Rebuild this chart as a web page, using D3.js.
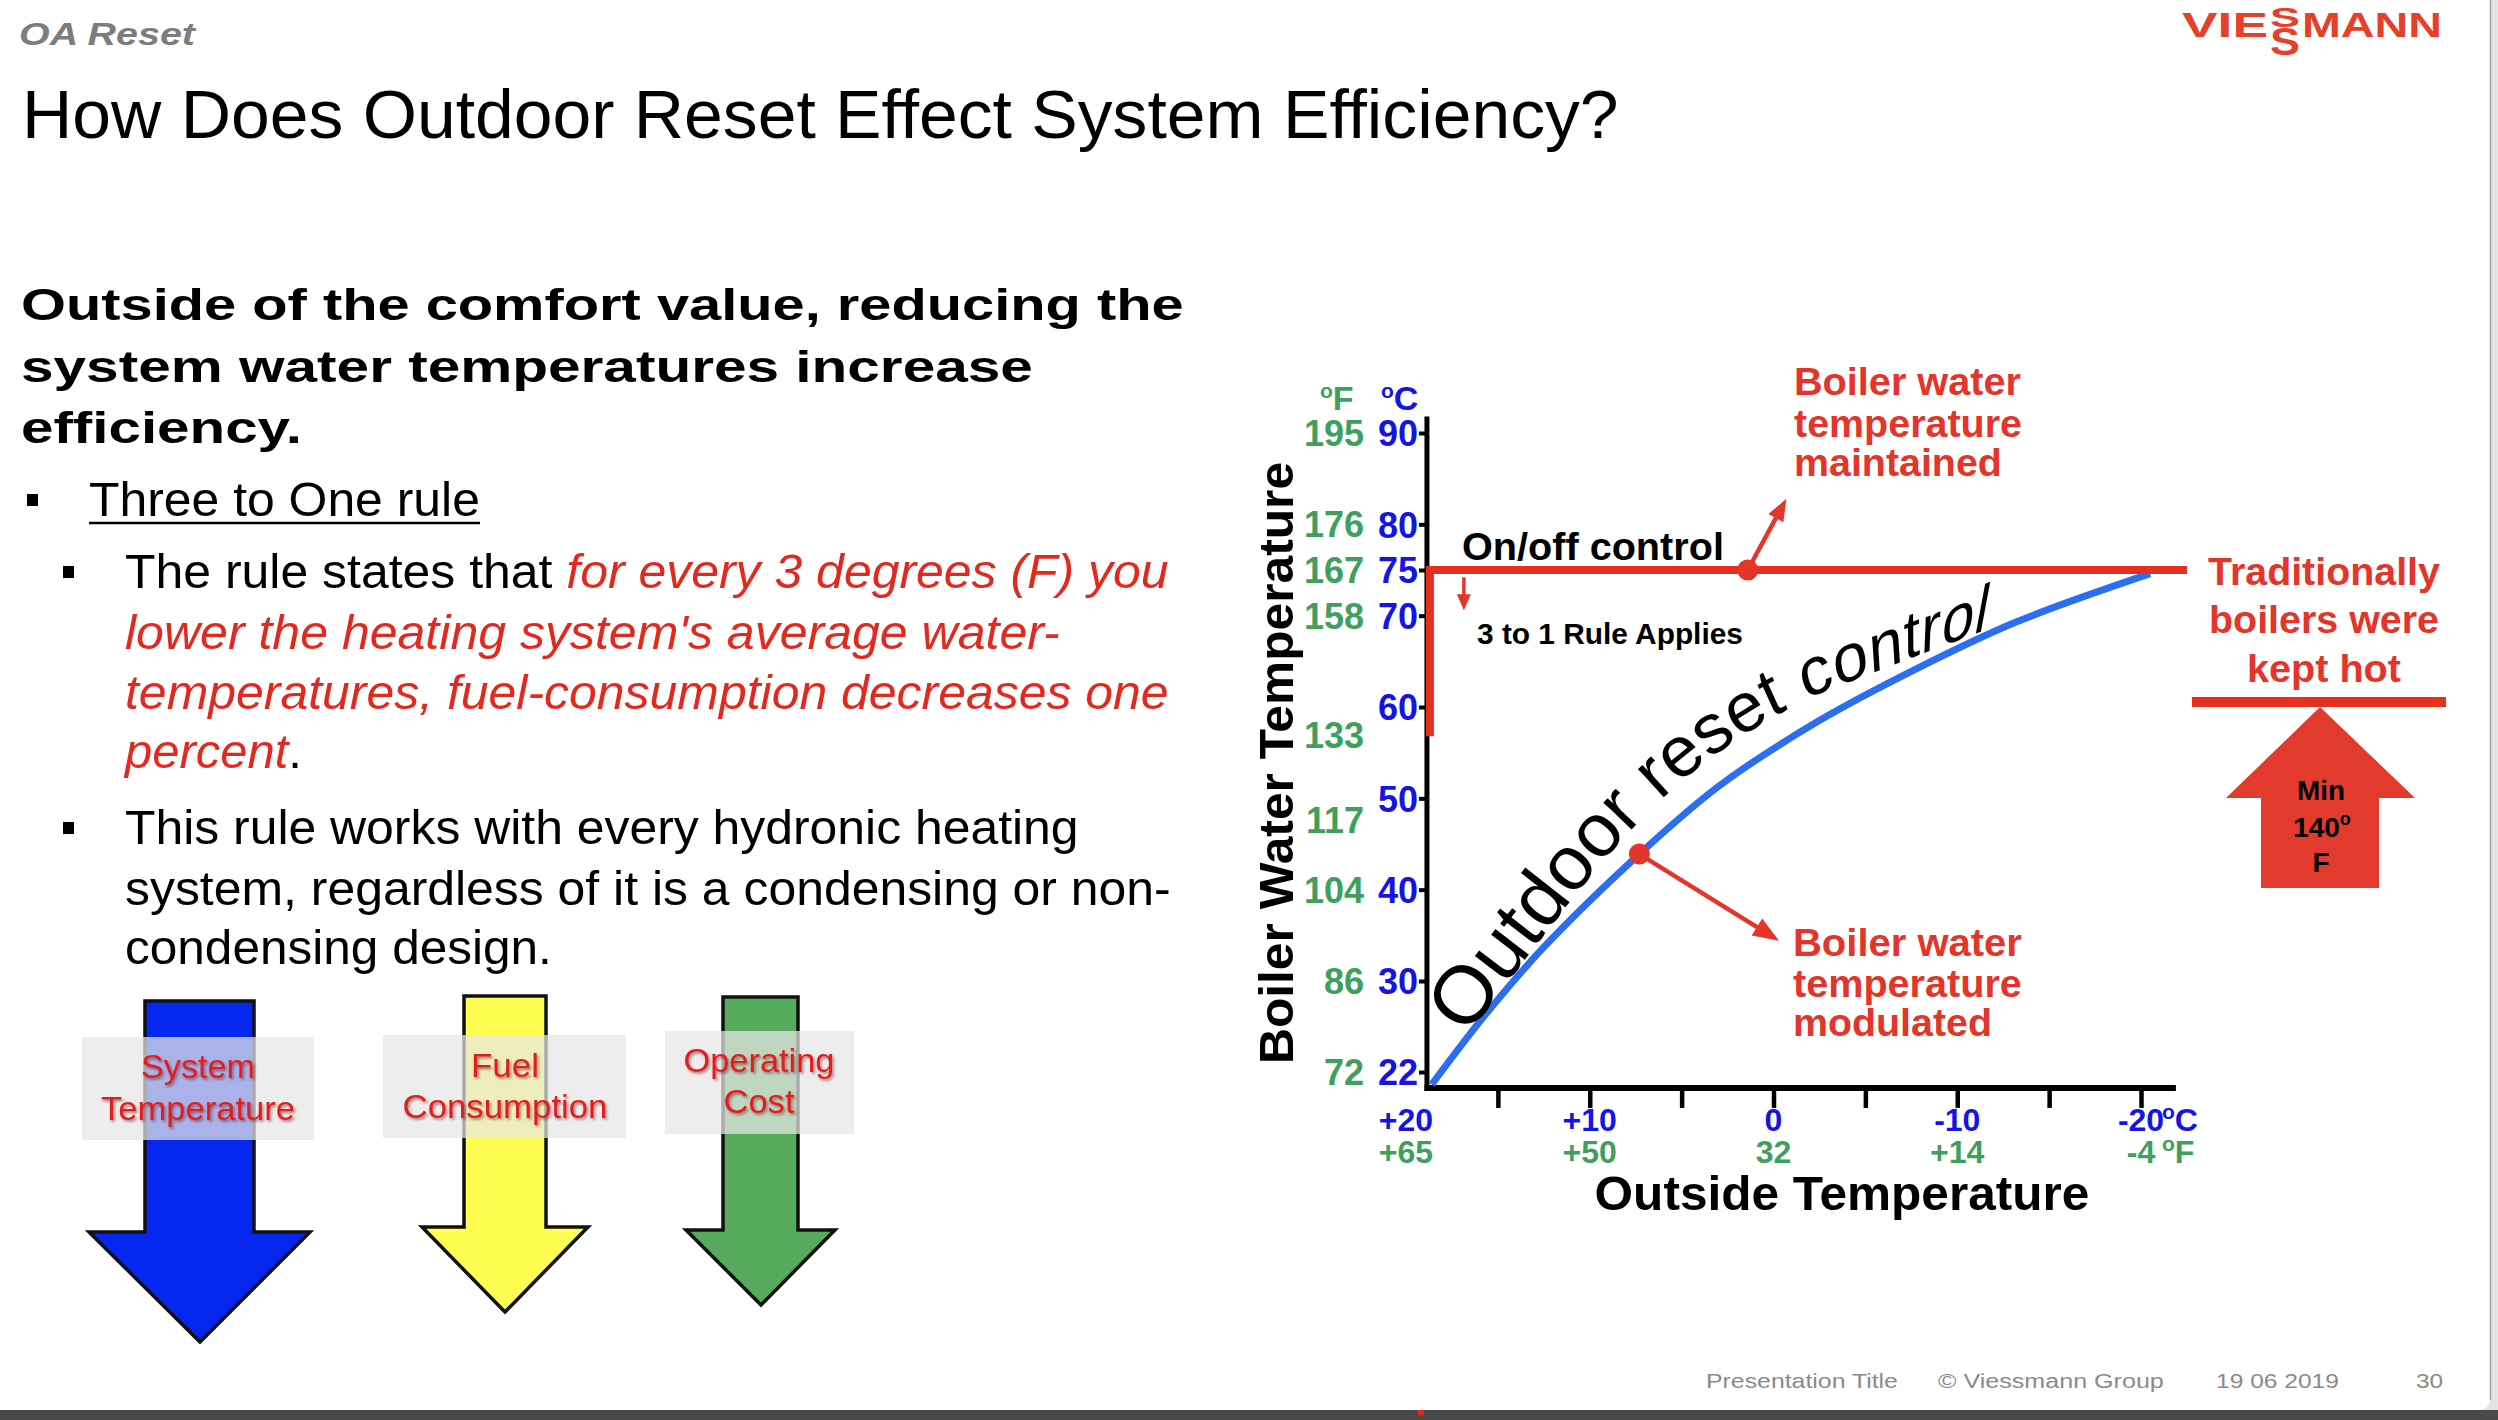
<!DOCTYPE html>
<html><head><meta charset="utf-8">
<script src="https://cdn.jsdelivr.net/npm/d3@7"></script>
<style>
html,body{margin:0;padding:0;background:#fff;overflow:hidden}
svg{display:block}
text{font-family:"Liberation Sans",Arial,Helvetica,sans-serif}
</style></head><body>
<svg id="c" width="2498" height="1420"></svg>
<script>
// ---------------- data ----------------
const outdoorC = [18.6, 15.7, 12.5, 7.3, 3.0, -2.4, -7.8, -13.2, -20.5];
const waterC   = [20.9, 27.0, 33.7, 43.9, 51.3, 58.4, 64.2, 69.3, 74.6];
const yTicksC  = [90, 80, 75, 70, 60, 50, 40, 30, 22];
const yTicksF  = [195, 176, 167, 158, 133, 117, 104, 86, 72];
const yTicksFatC = [90, 80, 75, 70, 56.9, 47.6, 40, 30, 22];
const xTicksC  = [20, 10, 0, -10, -20];
const xLabelsC = ["+20", "+10", "0", "-10", "-20"];
const xLabelsF = ["+65", "+50", "32", "+14", "-4"];
const xMinorTicks = [15, 10, 5, 0, -5, -10, -15, -20];
const onOffTempC = 75;
const onOffLowC = 56.8;
const onOffOutdoor = [18.7, -22.5];
const maintainedPoint = [1.4, 75];
const maintainedTip = [-0.7, 82.8];
const modulatedPoint = [7.3, 43.9];
const modulatedTip = [-0.3, 34.4];
const ruleArrow = [[16.85, 74.2], [16.85, 70.6]];
const textArc = [[16.7, 25.1], [8.5, 44.9], [4.0, 53.5], [-1.2, 60.2], [-6.9, 64.9], [-11.5, 68.4]];

const headingLines = ["Outside of the comfort value, reducing the", "system water temperatures increase", "efficiency."];
const rule1Lines = [
  [{t:"The rule states that "},{t:"for every 3 degrees (F) you",red:true}],
  [{t:"lower the heating system's average water-",red:true}],
  [{t:"temperatures, fuel-consumption decreases one",red:true}],
  [{t:"percent",red:true},{t:"."}]
];
const rule2Lines = ["This rule works with every hydronic heating", "system, regardless of it is a condensing or non-", "condensing design."];
const arrowLabels = [["System","Temperature"],["Fuel","Consumption"],["Operating","Cost"]];
const footerTexts = ["Presentation Title", "\u00A9 Viessmann Group", "19 06 2019", "30"];

// ---------------- setup ----------------
const W = 2498, H = 1420;
const RED = "#e3281e", ARED = "#e4352a", BLUE_T = "#1414e8", GREEN_T = "#3f9f5c";
const svg = d3.select("#c");
const defs = svg.append("defs");
const f = defs.append("filter").attr("id","sh").attr("x","-10%").attr("y","-20%").attr("width","130%").attr("height","150%");
f.append("feDropShadow").attr("dx",1.5).attr("dy",2).attr("stdDeviation",1.3).attr("flood-color","#500").attr("flood-opacity",0.45);

function fitText(t, w){
  const n = t.node().getComputedTextLength();
  if(!n) return t;
  const k = w/n, x0 = +t.attr("x") || 0;
  t.attr("transform", `translate(${x0},0) scale(${k},1) translate(${-x0},0)`);
  return t;
}
function T(x, y, str, o = {}){
  const t = svg.append("text").attr("x", x).attr("y", y).text(str)
    .attr("font-size", o.size || 40)
    .attr("fill", o.fill || "#000")
    .attr("text-anchor", o.anchor || "start");
  if (o.bold) t.attr("font-weight", "bold");
  if (o.italic) t.attr("font-style", "italic");
  if (o.family) t.attr("font-family", o.family);
  if (o.filter) t.attr("filter", o.filter);
  if (o.w) fitText(t, o.w);
  return t;
}
function M(x, y, parts, o){
  const t = svg.append("text").attr("x", x).attr("y", y).attr("font-size", o.size);
  parts.forEach(p => t.append("tspan").text(p.t).attr("fill", p.red ? RED : "#000").attr("font-style", p.red ? "italic" : null));
  if (o.w) fitText(t, o.w);
  return t;
}

// ---------------- frame ----------------
svg.append("rect").attr("width", W).attr("height", H).attr("fill", "#e3e3e3");
svg.append("path").attr("d", "M0,0 H2490 V1398 Q2490,1410 2478,1410 H0 Z").attr("fill", "#fff");
svg.append("line").attr("x1", 2490.5).attr("x2", 2490.5).attr("y1", 0).attr("y2", 1400).attr("stroke", "#a0a0a0").attr("stroke-width", 1.5);
svg.append("rect").attr("x", 0).attr("y", 1410).attr("width", W).attr("height", 10).attr("fill", "#4a4a4a");
svg.append("rect").attr("x", 1418).attr("y", 1410).attr("width", 6).attr("height", 5).attr("fill", "#e3281e");

// ---------------- header ----------------
T(19, 45, "OA Reset", {size: 32, bold: true, italic: true, fill: "#7d7d7d", w: 176});
T(22, 138, "How Does Outdoor Reset Effect System Efficiency?", {size: 68, w: 1597});
// logo
const LOGO = "#e5402a", LF = "'DejaVu Sans', sans-serif";
T(2182, 37, "VIE", {size: 36, bold: true, fill: LOGO, w: 86, family: LF});
T(2302, 37, "MANN", {size: 36, bold: true, fill: LOGO, w: 140, family: LF});
T(2270, 27, "S", {size: 28, bold: true, fill: LOGO, w: 30, family: LF});
T(2270, 55, "S", {size: 38, bold: true, fill: LOGO, w: 30, family: LF});

// ---------------- left text ----------------
const headBase = [320, 382, 443], headW = [1163, 1012, 281];
headingLines.forEach((s, i) => T(21, headBase[i], s, {size: 45, bold: true, family: "'DejaVu Sans', sans-serif", w: headW[i]}));
svg.append("rect").attr("x", 27).attr("y", 494).attr("width", 11).attr("height", 12).attr("fill", "#000");
T(89, 516, "Three to One rule", {size: 48, w: 391});
svg.append("line").attr("x1", 89).attr("x2", 480).attr("y1", 523).attr("y2", 523).attr("stroke", "#000").attr("stroke-width", 2.5);
svg.append("rect").attr("x", 63).attr("y", 566).attr("width", 11).attr("height", 12).attr("fill", "#000");
const r1Base = [588, 649, 709, 768], r1W = [1044, 935, 1044, 177];
rule1Lines.forEach((p, i) => M(125, r1Base[i], p, {size: 48, w: r1W[i]}));
svg.append("rect").attr("x", 63).attr("y", 822).attr("width", 11).attr("height", 12).attr("fill", "#000");
const r2Base = [844, 905, 964], r2W = [954, 1046, 427];
rule2Lines.forEach((s, i) => T(125, r2Base[i], s, {size: 48, w: r2W[i]}));

// ---------------- down arrows ----------------
const arrowShapes = [
  {fill: "#0527f0", pts: [[145,1001],[254,1001],[254,1232],[310,1232],[200,1342],[89,1232],[145,1232]]},
  {fill: "#fdfd52", pts: [[464,996],[546,996],[546,1227],[588,1227],[505,1312],[422,1227],[464,1227]]},
  {fill: "#55aa5c", pts: [[723,997],[798,997],[798,1230],[835,1230],[761,1305],[686,1230],[723,1230]]}
];
svg.selectAll("polygon.da").data(arrowShapes).join("polygon").attr("class", "da")
  .attr("points", d => d.pts.map(p => p.join(",")).join(" "))
  .attr("fill", d => d.fill).attr("stroke", "#111").attr("stroke-width", 3.5).attr("stroke-linejoin", "miter");
const boxes = [[82,1037,232,103],[383,1035,243,103],[665,1031,189,103]];
svg.selectAll("rect.lb").data(boxes).join("rect").attr("class", "lb")
  .attr("x", d => d[0]).attr("y", d => d[1]).attr("width", d => d[2]).attr("height", d => d[3])
  .attr("fill", "#e6e6e6").attr("opacity", 0.73);
const lblCx = [198, 505, 759], lblY = [[1078,1120],[1077,1118],[1072,1113]], lblW = [[114,194],[68,205],[151,71]];
arrowLabels.forEach((ls, i) => ls.forEach((s, j) =>
  T(lblCx[i], lblY[i][j], s, {size: 33, anchor: "middle", fill: "#e31c1c", filter: "url(#sh)", w: lblW[i][j]})));

// ---------------- chart ----------------
const x = d3.scaleLinear().domain([20, -20]).range([1406, 2141]);
const y = d3.scaleLinear().domain([22, 30, 90]).range([1072, 981, 433]);
const yAxisOut = 18.86, xAxisWater = 20.6;
const ax0 = x(yAxisOut), ay0 = y(xAxisWater);

// y axis
const gy = svg.append("g").attr("transform", `translate(${ax0},0)`)
  .call(d3.axisLeft(y).tickValues(yTicksC).tickSize(8).tickPadding(1));
gy.select(".domain").remove();
gy.selectAll(".tick line").attr("stroke", "#000").attr("stroke-width", 4);
gy.selectAll(".tick text").attr("fill", BLUE_T).attr("font-size", 36).attr("font-weight", "bold")
  .attr("font-family", "'Liberation Sans',Arial,sans-serif").attr("dy", "0.36em");
svg.append("line").attr("x1", ax0).attr("x2", ax0).attr("y1", y(91.8)).attr("y2", ay0 + 3)
  .attr("stroke", "#000").attr("stroke-width", 5);
svg.selectAll("text.fl").data(yTicksF).join("text").attr("class", "fl")
  .attr("x", 1364).attr("y", (d, i) => y(yTicksFatC[i])).attr("dy", "0.36em")
  .attr("text-anchor", "end").attr("font-size", 36).attr("font-weight", "bold").attr("fill", GREEN_T).text(d => d);
// unit headers
function unit(xp, yp, letter, fill, fs){
  const t = svg.append("text").attr("x", xp).attr("y", yp).attr("font-weight", "bold").attr("fill", fill).attr("font-size", fs || 34);
  t.append("tspan").text("o").attr("font-size", 21).attr("dy", -12);
  t.append("tspan").text(letter).attr("dy", 12);
  return t;
}
unit(1320, 410, "F", GREEN_T);
unit(1381, 410, "C", BLUE_T);

// x axis
svg.append("line").attr("x1", ax0 - 2.5).attr("x2", x(-21.9)).attr("y1", ay0).attr("y2", ay0)
  .attr("stroke", "#000").attr("stroke-width", 6);
const gx = svg.append("g").attr("transform", `translate(0,${ay0})`)
  .call(d3.axisBottom(x).tickValues(xMinorTicks).tickSize(20).tickFormat(""));
gx.select(".domain").remove();
gx.selectAll(".tick line").attr("stroke", "#000").attr("stroke-width", 4.5);
svg.selectAll("text.xc").data(xTicksC).join("text").attr("class", "xc")
  .attr("x", d => x(d)).attr("y", 1131).attr("text-anchor", "middle")
  .attr("font-size", 32).attr("font-weight", "bold").attr("fill", BLUE_T).text((d, i) => xLabelsC[i]);
svg.selectAll("text.xf").data(xTicksC).join("text").attr("class", "xf")
  .attr("x", d => x(d)).attr("y", 1163).attr("text-anchor", "middle")
  .attr("font-size", 32).attr("font-weight", "bold").attr("fill", GREEN_T).text((d, i) => xLabelsF[i]);
unit(x(-20) + 21, 1131, "C", BLUE_T, 32);
unit(x(-20) + 21, 1163, "F", GREEN_T, 32);

// axis titles
svg.append("text").attr("transform", "translate(1293,763) rotate(-90)").attr("text-anchor", "middle")
  .attr("font-size", 48).attr("font-weight", "bold").attr("textLength", 602).attr("lengthAdjust", "spacingAndGlyphs")
  .text("Boiler Water Temperature");
T(1842, 1210, "Outside Temperature", {size: 48, bold: true, anchor: "middle", w: 495});

// reset curve
const curveData = outdoorC.map((o, i) => [o, waterC[i]]);
svg.append("path").datum(curveData)
  .attr("d", d3.line().x(d => x(d[0])).y(d => y(d[1])).curve(d3.curveCatmullRom.alpha(0.5)))
  .attr("fill", "none").attr("stroke", "#2b6ff0").attr("stroke-width", 7).attr("stroke-linecap", "butt");

// on/off control
svg.append("path")
  .attr("d", `M${x(onOffOutdoor[0])},${y(onOffLowC)} V${y(onOffTempC)} H${x(onOffOutdoor[1])}`)
  .attr("fill", "none").attr("stroke", "#e6301f").attr("stroke-width", 8).attr("stroke-linejoin", "miter");

// arrows
function arrow(from, to, hl, hw, sw){
  const x1 = x(from[0]), y1 = y(from[1]), x2 = x(to[0]), y2 = y(to[1]);
  const dx = x2 - x1, dy = y2 - y1, L = Math.hypot(dx, dy), ux = dx / L, uy = dy / L;
  const bx = x2 - ux * hl, by = y2 - uy * hl;
  svg.append("line").attr("x1", x1).attr("y1", y1).attr("x2", bx + ux * 2).attr("y2", by + uy * 2)
    .attr("stroke", ARED).attr("stroke-width", sw);
  svg.append("polygon").attr("points", [[x2, y2], [bx - uy * hw / 2, by + ux * hw / 2], [bx + uy * hw / 2, by - ux * hw / 2]].map(p => p.join(",")).join(" "))
    .attr("fill", ARED);
}
arrow(maintainedPoint, maintainedTip, 22, 17, 4.5);
arrow(modulatedPoint, modulatedTip, 26, 20, 4.5);
arrow(ruleArrow[0], ruleArrow[1], 16, 14, 3.5);
svg.selectAll("circle.pt").data([maintainedPoint, modulatedPoint]).join("circle").attr("class", "pt")
  .attr("cx", d => x(d[0])).attr("cy", d => y(d[1])).attr("r", 10.5).attr("fill", ARED);

// chart texts
T(1462, 560, "On/off control", {size: 38, bold: true, w: 262});
T(1477, 644, "3 to 1 Rule Applies", {size: 29, bold: true, w: 266});
const topAnn = ["Boiler water", "temperature", "maintained"], topY = [395, 437, 476], topW = [227, 228, 208];
topAnn.forEach((s, i) => T(1794, topY[i], s, {size: 38, bold: true, fill: ARED, w: topW[i]}));
const botAnn = ["Boiler water", "temperature", "modulated"], botY = [956, 997, 1036], botW = [229, 229, 199];
botAnn.forEach((s, i) => T(1793, botY[i], s, {size: 38, bold: true, fill: ARED, w: botW[i]}));

// text along an arc above the curve (WordArt-like: letters shrink and lean toward the end)
const arcLine = d3.line().x(d => x(d[0])).y(d => y(d[1])).curve(d3.curveCatmullRom.alpha(0.5));
const arcEl = defs.append("path").attr("id", "arc").attr("d", arcLine(textArc)).node();
const arcLen = arcEl.getTotalLength();
const arcLabel = "Outdoor reset control", AFS = 82;
const meas = svg.append("text").attr("font-size", AFS).attr("x", 0).attr("y", -300).text(arcLabel);
const mn = meas.node(), cst = [], cen = [];
for (let i = 0; i < arcLabel.length; i++) { cst.push(mn.getStartPositionOfChar(i).x); cen.push(mn.getEndPositionOfChar(i).x); }
meas.remove();
const natW = cen[cen.length - 1] - cst[0];
const gScale = arcLabel.split("").map((c, i) => 1 - 0.27 * (((cst[i] + cen[i]) / 2 - cst[0]) / natW));
const adv = arcLabel.split("").map((c, i) => (cen[i] - cst[i]) * gScale[i]);
const advSum = d3.sum(adv), cFit = arcLen / advSum;
const ga = svg.append("g").attr("class", "arc-label");
let acc = 0;
for (let i = 0; i < arcLabel.length; i++) {
  const mid = (acc + adv[i] / 2) * cFit;
  acc += adv[i];
  if (arcLabel[i] === " ") continue;
  const p = arcEl.getPointAtLength(mid);
  const a = arcEl.getPointAtLength(Math.max(0, mid - 3)), b = arcEl.getPointAtLength(Math.min(arcLen, mid + 3));
  const ang = Math.atan2(b.y - a.y, b.x - a.x) * 180 / Math.PI;
  const e = Math.max(0, (mid / arcLen - 0.55) / 0.45);
  const lean = 32 * Math.pow(e, 1.5);
  ga.append("text").attr("transform", `translate(${p.x},${p.y}) rotate(${ang}) skewX(${-lean}) scale(${gScale[i] * cFit},${gScale[i]})`)
    .attr("text-anchor", "middle").attr("font-size", AFS).attr("fill", "#000").text(arcLabel[i]);
}

// traditionally block
const tradLines = ["Traditionally", "boilers were", "kept hot"], tradY = [585, 633, 682], tradW = [232, 230, 154];
tradLines.forEach((s, i) => T(2324, tradY[i], s, {size: 38, bold: true, anchor: "middle", fill: ARED, w: tradW[i]}));
svg.append("rect").attr("x", 2192).attr("y", 697).attr("width", 254).attr("height", 10).attr("fill", "#e6301f");
svg.append("polygon").attr("points", "2320,707 2415,798 2379,798 2379,888 2261,888 2261,798 2226,798").attr("fill", "#e23a2c");
T(2321, 800, "Min", {size: 28, bold: true, anchor: "middle", w: 48});
const t140 = svg.append("text").attr("x", 2322).attr("y", 837).attr("text-anchor", "middle").attr("font-size", 28).attr("font-weight", "bold");
t140.append("tspan").text("140");
t140.append("tspan").text("o").attr("font-size", 18).attr("dy", -12);
T(2321, 872, "F", {size: 28, bold: true, anchor: "middle"});

// footer
const footX = [1706, 1938, 2216, 2416], footW = [192, 226, 123, 27];
footerTexts.forEach((s, i) => T(footX[i], 1388, s, {size: 21, fill: "#8a8a8a", w: footW[i]}));
</script>
</body></html>
